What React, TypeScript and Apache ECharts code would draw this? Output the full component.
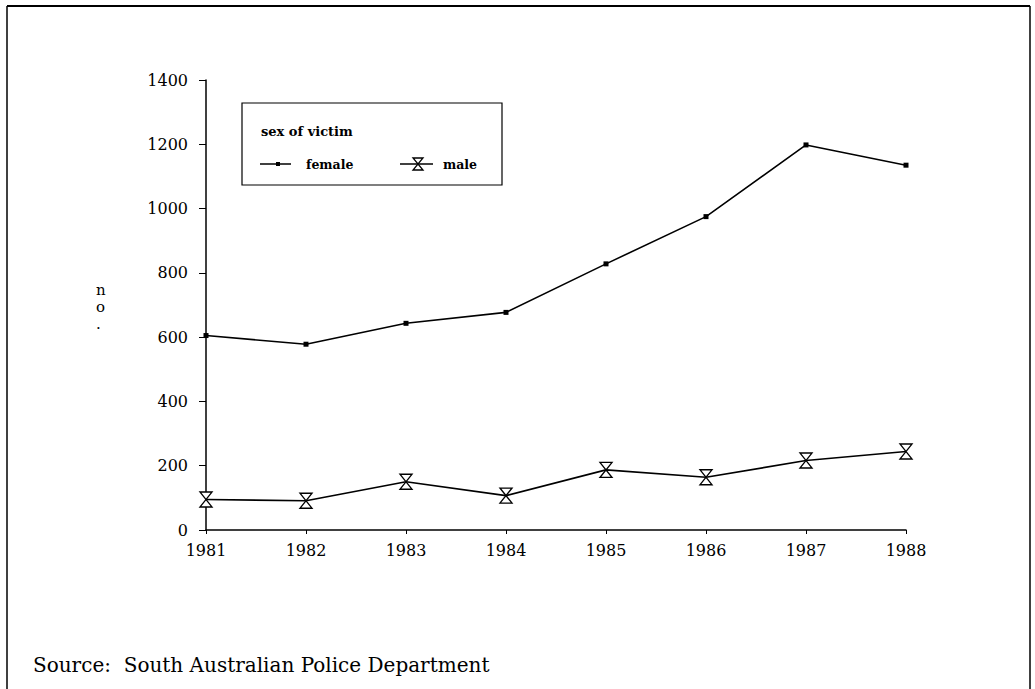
import React, { useEffect, useRef } from "react";
import * as echarts from "echarts";

const years = ["1981", "1982", "1983", "1984", "1985", "1986", "1987", "1988"];
const female = [605, 578, 643, 677, 828, 975, 1198, 1135];
const male = [95, 91, 150, 107, 187, 164, 216, 244];
const yTicks = [0, 200, 400, 600, 800, 1000, 1200, 1400];
const seriesNames = ["female", "male"];
const legendTitle = "sex of victim";
const yAxisName = "n\no\n.";
const sourceNote = "Source:  South Australian Police Department";

const FONT = "DejaVu Serif";
const hourglass = "path://M0,0 L10,0 L0,14 L10,14 Z";

export default function App() {
  const ref = useRef<HTMLDivElement>(null);
  useEffect(() => {
    if (!ref.current) return;
    const chart = echarts.init(ref.current, null, { renderer: "svg" });
    const legY = 164;
    chart.setOption({
      animation: false,
      backgroundColor: "#fff",
      grid: { left: 206, right: 129, top: 80, bottom: 159 },
      xAxis: {
        type: "category",
        data: years,
        boundaryGap: false,
        axisLine: { lineStyle: { color: "#000", width: 1.5 } },
        axisTick: { alignWithLabel: true, length: 4, lineStyle: { color: "#000" } },
        axisLabel: { color: "#000", fontFamily: FONT, fontSize: 16, margin: 12 },
      },
      yAxis: {
        type: "value",
        min: yTicks[0],
        max: yTicks[yTicks.length - 1],
        interval: 200,
        splitLine: { show: false },
        axisLine: { show: true, lineStyle: { color: "#000", width: 1.5 } },
        axisTick: { show: true, length: 7, lineStyle: { color: "#000" } },
        axisLabel: {
          color: "#000",
          fontFamily: FONT,
          fontSize: 16,
          margin: 18,
          formatter: (v: number) => String(v),
        },
      },
      legend: { show: false },
      graphic: [
        { type: "line", shape: { x1: 7, y1: 6, x2: 1030, y2: 6 }, style: { stroke: "#000", lineWidth: 2 } },
        { type: "line", shape: { x1: 7, y1: 6, x2: 7, y2: 689 }, style: { stroke: "#000", lineWidth: 1.5 } },
        { type: "line", shape: { x1: 1030, y1: 6, x2: 1030, y2: 689 }, style: { stroke: "#000", lineWidth: 1.5 } },
        {
          type: "rect",
          shape: { x: 242, y: 103, width: 260, height: 82 },
          style: { fill: "#fff", stroke: "#000", lineWidth: 1.2 },
          z: 10,
        },
        {
          type: "text",
          x: 261,
          y: 131,
          z: 11,
          style: { text: legendTitle, fill: "#000", font: `bold 13px "${FONT}"`, verticalAlign: "middle" },
        },
        { type: "line", z: 11, shape: { x1: 260, y1: legY, x2: 291, y2: legY }, style: { stroke: "#000", lineWidth: 1.5 } },
        { type: "rect", z: 11, shape: { x: 276, y: legY - 2, width: 4, height: 4 }, style: { fill: "#000" } },
        {
          type: "text",
          x: 306,
          y: legY,
          z: 11,
          style: { text: seriesNames[0], fill: "#000", font: `bold 12.5px "${FONT}"`, verticalAlign: "middle" },
        },
        { type: "line", z: 11, shape: { x1: 400, y1: legY, x2: 433, y2: legY }, style: { stroke: "#000", lineWidth: 1.5 } },
        {
          type: "polygon",
          z: 12,
          shape: { points: [[413, legY - 6], [423, legY - 6], [413, legY + 6], [423, legY + 6]] },
          style: { fill: "#fff", stroke: "#000", lineWidth: 1.3 },
        },
        {
          type: "text",
          x: 443,
          y: legY,
          z: 11,
          style: { text: seriesNames[1], fill: "#000", font: `bold 12.5px "${FONT}"`, verticalAlign: "middle" },
        },
        {
          type: "text",
          x: 96,
          y: 281,
          style: { text: yAxisName, fill: "#000", font: `15px "${FONT}"`, lineHeight: 17, align: "left" },
        },
        {
          type: "text",
          x: 33,
          y: 665,
          style: { text: sourceNote, fill: "#000", font: `20px "${FONT}"`, verticalAlign: "middle" },
        },
      ],
      series: [
        {
          name: seriesNames[0],
          type: "line",
          data: female,
          symbol: "rect",
          symbolSize: 5,
          lineStyle: { color: "#000", width: 1.6 },
          itemStyle: { color: "#000" },
          z: 3,
        },
        {
          name: seriesNames[1],
          type: "line",
          data: male,
          symbol: hourglass,
          symbolSize: [12, 15],
          lineStyle: { color: "#000", width: 1.6 },
          itemStyle: { color: "#fff", borderColor: "#000", borderWidth: 1.3 },
          z: 3,
        },
      ],
    });
    return () => chart.dispose();
  }, []);
  return (
    <div
      ref={ref}
      style={{ position: "fixed", left: 0, top: 0, width: 1035, height: 689, background: "#fff" }}
    />
  );
}
